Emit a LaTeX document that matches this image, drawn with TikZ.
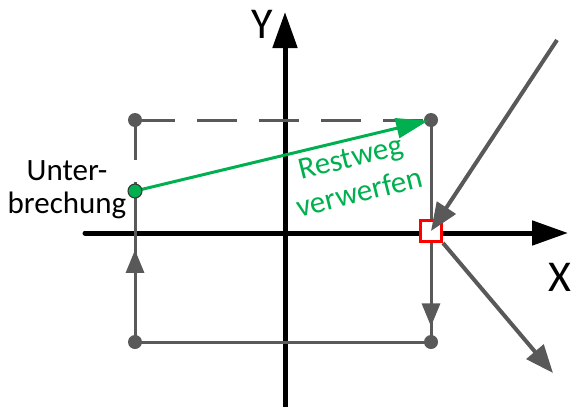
\documentclass[tikz,border=0pt]{standalone}
\usepackage{fontspec}
\setmainfont{Carlito}
\usetikzlibrary{arrows.meta,decorations.markings}
\definecolor{lgray}{HTML}{595959}
\definecolor{ggreen}{HTML}{00B050}

\begin{document}
\begin{tikzpicture}[x=1pt, y=-1pt,
  every node/.style={font=\fontsize{31}{33}\selectfont},
  axis/.style={line width=5pt, -{Triangle[length=36pt,width=24pt]}},
  edge/.style={draw=lgray, line width=3pt},
  dashedge/.style={edge, dash pattern=on 40pt off 22pt},
  midarrow/.style={postaction={decorate}, decoration={markings, mark=at position #1 with {\arrow{Triangle[length=23pt,width=18pt]}}}},
  ray/.style={draw=lgray, line width=4pt, -{Triangle[length=28pt,width=22pt]}},
  dot/.style={circle, fill=lgray, inner sep=0pt, minimum size=14pt},
  big/.style={font=\fontsize{44}{44}\selectfont}]
\useasboundingbox (0,0) rectangle (572,407);
% axes
\coordinate (xs) at (85,233); \coordinate (xe) at (568,233);
\coordinate (ys) at (285,407); \coordinate (ye) at (285,12);
\draw[axis, line cap=round] (xs) -- (xe);
\draw[axis] (ys) -- (ye);
\node[big] (ylab) at (262,24) {Y};
\node[big] (xlab) at (560,277) {X};
% rectangle path
\coordinate (tl) at (135,120); \coordinate (tr) at (431,120);
\coordinate (bl) at (135,342); \coordinate (br) at (431,342);
\coordinate (ub) at (135,191);
\draw[dashedge] (tl) -- (ub);
\draw[dashedge] (tl) -- (tr);
\draw[edge, midarrow=0.61] (bl) -- (ub);
\draw[edge, midarrow=0.93] (tr) -- (br);
\draw[edge] (bl) -- (br);
\foreach \p in {tl,tr,bl,br} \node[dot] (d\p) at (\p) {};
% interruption and rest path
\node[align=center] (ulab) at (67,190) {Unter-\\brechung};
\draw[ggreen, line width=3pt, -{Triangle[length=32pt,width=20pt]}, shorten >=3pt] (ub) -- (dtr.center);
\node[circle, fill=ggreen, draw=black!80, line width=1pt, inner sep=0pt, minimum size=14pt] (gdot) at (ub) {};
\node[ggreen, align=center, rotate=14, font=\fontsize{31}{36}\selectfont] (rest) at (355,175) {Restweg\\verwerfen};
% collision
\node[draw=red, line width=3pt, fill=white, minimum size=21pt, inner sep=0pt] (hit) at (431,231) {};
\coordinate (rin) at (557,40); \coordinate (rout) at (553,373);
\draw[ray] (rin) -- (hit.center);
\draw[ray] (hit.south east) -- (rout);
\end{tikzpicture}
\end{document}
